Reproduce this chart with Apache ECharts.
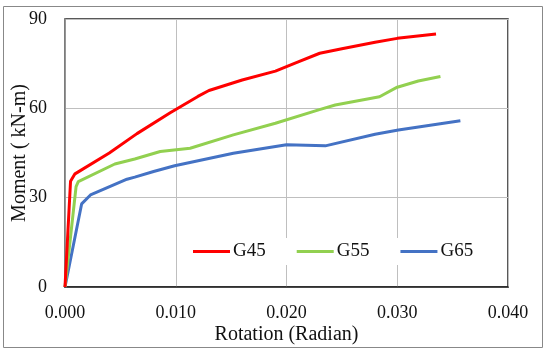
<!DOCTYPE html>
<html><head><meta charset="utf-8">
<script src="https://cdn.jsdelivr.net/npm/echarts@6/dist/echarts.min.js"></script>
<style>html,body{margin:0;padding:0;background:#fff}#c{width:550px;height:350px}</style>
</head><body><div id="c"></div>
<script>
const seriesNames = ['G45', 'G55', 'G65'];
const colors = ['#FF0000', '#92D050', '#4472C4'];
const g45 = [[0,0],[0.0005,35.5],[0.0009,38],[0.004,45],[0.0065,51.5],[0.0095,58.5],[0.012,64],[0.013,66],[0.016,69.5],[0.019,72.5],[0.021,75.5],[0.023,78.5],[0.025,80],[0.028,82.2],[0.030,83.5],[0.0335,85]];
const g55 = [[0,0],[0.001,33.7],[0.0012,35.4],[0.0045,41.3],[0.0063,43],[0.0086,45.5],[0.0113,46.6],[0.0152,51.1],[0.019,55],[0.0229,59.5],[0.0244,61.1],[0.0284,63.9],[0.030,67.1],[0.0319,69.2],[0.0339,70.7]];
const g65 = [[0,0],[0.0015,27.9],[0.0023,30.9],[0.0056,36.2],[0.0063,36.9],[0.008,38.8],[0.0099,40.7],[0.0152,44.9],[0.020,47.8],[0.0235,47.4],[0.028,51.3],[0.0301,52.7],[0.0357,55.8]];
const dataSets = [g45, g55, g65];
const xTicks = {min: 0, max: 0.04, interval: 0.01};
const yTicks = {min: 0, max: 90, interval: 30};
const xName = 'Rotation (Radian)';
const yName = 'Moment ( kN-m)';

const font = 'Liberation Serif';
const chart = echarts.init(document.getElementById('c'));
chart.setOption({
  animation: false,
  textStyle: {fontFamily: font},
  graphic: [{type: 'rect', shape: {x: 3.5, y: 6.5, width: 539, height: 341}, style: {fill: 'none', stroke: '#888', lineWidth: 1}, z: -1}],
  grid: {left: 65, right: 42, top: 19, bottom: 63, containLabel: false, outerBoundsMode: 'none',
         show: true, borderColor: '#222', borderWidth: 1.5, backgroundColor: '#fff'},
  legend: {
    data: seriesNames.map(n => ({name: n, icon: 'rect'})),
    left: 189, top: 238, itemWidth: 37, itemHeight: 3, itemGap: 31,
    backgroundColor: '#fff', padding: [4, 4],
    textStyle: {fontFamily: font, fontSize: 19, color: '#111', padding: [0, 0, 0, -2]}
  },
  xAxis: {
    type: 'value', min: xTicks.min, max: xTicks.max, interval: xTicks.interval,
    name: xName, nameLocation: 'middle', nameGap: 38, nameMoveOverlap: false,
    nameTextStyle: {fontFamily: font, fontSize: 20, color: '#111'},
    axisLine: {show: true, lineStyle: {color: '#222', width: 1.5}},
    axisTick: {show: false},
    axisLabel: {fontFamily: font, fontSize: 18, color: '#111', margin: 17, formatter: v => v.toFixed(3)},
    splitLine: {show: true, lineStyle: {color: '#BFBFBF', width: 1}}
  },
  yAxis: {
    type: 'value', min: yTicks.min, max: yTicks.max, interval: yTicks.interval,
    name: yName, nameLocation: 'middle', nameGap: 35, nameRotate: 90, nameMoveOverlap: false,
    nameTextStyle: {fontFamily: font, fontSize: 20, color: '#111'},
    axisLine: {show: true, lineStyle: {color: '#888', width: 1.5}},
    axisTick: {show: false},
    axisLabel: {fontFamily: font, fontSize: 18, color: '#111', margin: 18},
    splitLine: {show: true, lineStyle: {color: '#BFBFBF', width: 1}}
  },
  series: seriesNames.map((n, i) => ({
    name: n, type: 'line', data: dataSets[i], symbol: 'none',
    lineStyle: {color: colors[i], width: 3}, itemStyle: {color: colors[i]}, z: 3 - i
  }))
});
</script></body></html>
